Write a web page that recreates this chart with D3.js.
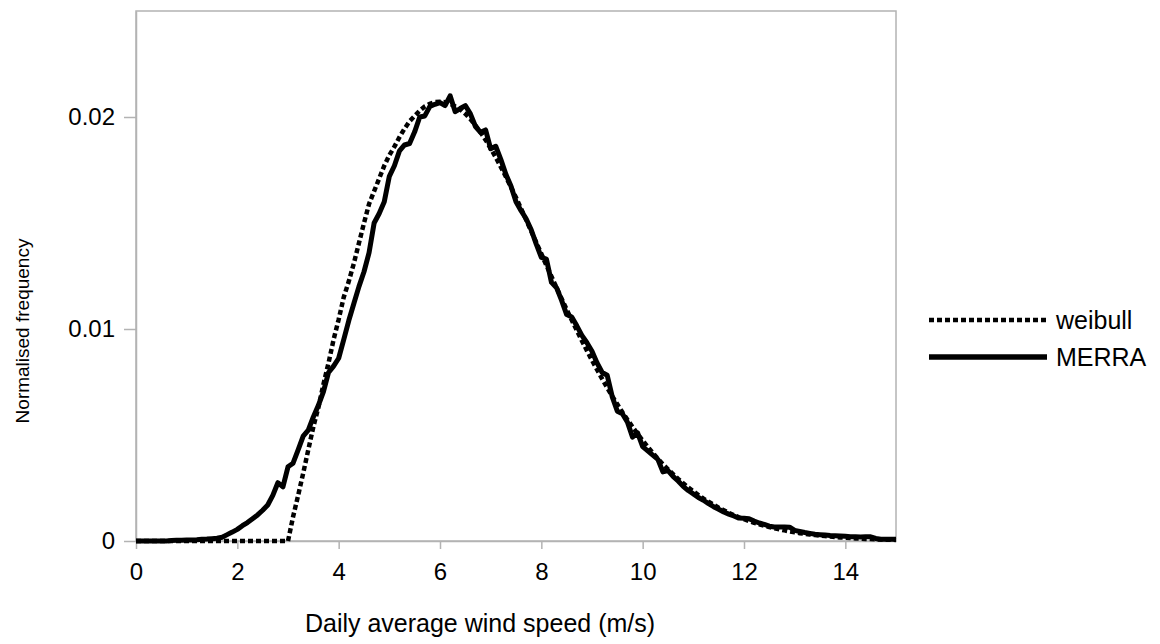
<!DOCTYPE html>
<html>
<head>
<meta charset="utf-8">
<script src="https://cdn.jsdelivr.net/npm/d3@7"></script>
<style>
  html, body { margin: 0; padding: 0; background: #fff; }
  svg { display: block; font-family: "Liberation Sans", Arial, sans-serif; }
</style>
</head>
<body>
<svg id="chart" width="1160" height="644"></svg>
<script>
// ---- data ----
const speedStep = 0.1;           // wind speed bins (m/s), 0 .. 15
const merra = [
  0, 0, 0, 0, 0, 0, 0, 0.00002, 0.00003, 0.00004,
  0.00005, 0.00005, 0.00006, 0.00008, 0.00009, 0.00011, 0.00013, 0.00018, 0.00030, 0.00042,
  0.00055, 0.00072, 0.00087, 0.00105, 0.00123, 0.00145, 0.00170, 0.00215, 0.00275, 0.00255,
  0.00350, 0.00367, 0.00430, 0.00495, 0.00523, 0.00585, 0.00640, 0.00705, 0.00795, 0.00825,
  0.00862, 0.00950, 0.01040, 0.01120, 0.01200, 0.01270, 0.01360, 0.01500, 0.01545, 0.01600,
  0.01720, 0.01770, 0.01840, 0.01868, 0.01875, 0.01930, 0.02000, 0.02005, 0.02050, 0.02060,
  0.02068, 0.02054, 0.02100, 0.02025, 0.02040, 0.02054, 0.02015, 0.01955, 0.01928, 0.01939,
  0.01850, 0.01862, 0.01800, 0.01730, 0.01675, 0.01600, 0.01558, 0.01520, 0.01468, 0.01400,
  0.01338, 0.01330, 0.01220, 0.01195, 0.01135, 0.01068, 0.01057, 0.01015, 0.00970, 0.00935,
  0.00895, 0.00840, 0.00795, 0.00782, 0.00680, 0.00612, 0.00600, 0.00560, 0.00490, 0.00510,
  0.00445, 0.00425, 0.00405, 0.00385, 0.00326, 0.00332, 0.00305, 0.00283, 0.00258, 0.00238,
  0.00222, 0.00205, 0.00192, 0.00176, 0.00162, 0.00150, 0.00137, 0.00127, 0.00118, 0.00108,
  0.00107, 0.00105, 0.00094, 0.00085, 0.00078, 0.00070, 0.00066, 0.00066, 0.00066, 0.00065,
  0.00050, 0.00045, 0.00040, 0.00036, 0.00032, 0.00030, 0.00028, 0.00026, 0.00025, 0.00024,
  0.00022, 0.00020, 0.00020, 0.00019, 0.00020, 0.00020, 0.00012, 0.00008, 0.00008, 0.00008,
  0.00008
];
const weibull = [
  0, 0, 0, 0, 0, 0, 0, 0, 0, 0,
  0, 0, 0, 0, 0, 0, 0, 0, 0, 0,
  0, 0, 0, 0, 0, 0, 0, 0, 0, 0,
  0, 0.00114, 0.00215, 0.00320, 0.00430, 0.00538, 0.00630, 0.00740, 0.00840, 0.00950,
  0.01045, 0.01150, 0.01225, 0.01310, 0.01405, 0.01500, 0.01590, 0.01650, 0.01710, 0.01770,
  0.01820, 0.01860, 0.01905, 0.01945, 0.01980, 0.02005, 0.02030, 0.02050, 0.02062, 0.02070,
  0.02072, 0.02070, 0.02062, 0.02050, 0.02035, 0.02015, 0.01990, 0.01960, 0.01928, 0.01892,
  0.01852, 0.01810, 0.01765, 0.01718, 0.01670, 0.01620, 0.01568, 0.01515, 0.01462, 0.01408,
  0.01355, 0.01300, 0.01248, 0.01195, 0.01143, 0.01092, 0.01042, 0.00993, 0.00945, 0.00898,
  0.00852, 0.00808, 0.00765, 0.00723, 0.00683, 0.00645, 0.00607, 0.00572, 0.00538, 0.00505,
  0.00474, 0.00444, 0.00415, 0.00388, 0.00362, 0.00338, 0.00315, 0.00293, 0.00272, 0.00252,
  0.00234, 0.00217, 0.00200, 0.00185, 0.00171, 0.00157, 0.00145, 0.00133, 0.00122, 0.00112,
  0.00103, 0.00094, 0.00086, 0.00079, 0.00072, 0.00066, 0.00060, 0.00055, 0.00050, 0.00045,
  0.00041, 0.00037, 0.00034, 0.00031, 0.00028, 0.00025, 0.00023, 0.00021, 0.00019, 0.00017,
  0.00015, 0.00014, 0.00012, 0.00011, 0.00010, 0.00009, 0.00008, 0.00007, 0.00006, 0.00006,
  0.00005
];
const xTicks = [0, 2, 4, 6, 8, 10, 12, 14];
const yTicks = [0, 0.01, 0.02];
const yTickLabels = ["0", "0.01", "0.02"];
const seriesNames = ["weibull", "MERRA"];
const xTitle = "Daily average wind speed (m/s)";
const yTitle = "Normalised frequency";

// ---- layout ----
const svg = d3.select("#chart");
const plot = { left: 136, top: 11, right: 896, bottom: 541 };
const x = d3.scaleLinear().domain([0, 15]).range([plot.left, plot.right]);
const y = d3.scaleLinear().domain([0, 0.025]).range([plot.bottom, plot.top]);
const axisColor = "#b3b3b3";

// frame (top and right)
svg.append("rect")
  .attr("x", plot.left).attr("y", plot.top)
  .attr("width", plot.right - plot.left).attr("height", plot.bottom - plot.top)
  .attr("fill", "none").attr("stroke", axisColor).attr("stroke-width", 1.5);

// x axis
const xAxis = svg.append("g")
  .attr("transform", `translate(0,${plot.bottom})`)
  .call(d3.axisBottom(x).tickValues(xTicks).tickSize(8).tickSizeOuter(0).tickPadding(14).tickFormat(d3.format("d")));
xAxis.select(".domain").attr("stroke", axisColor).attr("stroke-width", 1.5);
xAxis.selectAll(".tick line").attr("stroke", axisColor).attr("stroke-width", 1.5);
xAxis.selectAll(".tick text").attr("font-size", 24).attr("fill", "#000")
  .attr("font-family", "Liberation Sans, Arial, sans-serif");

// y axis
const yAxis = svg.append("g")
  .attr("transform", `translate(${plot.left},0)`)
  .call(d3.axisLeft(y).tickValues(yTicks).tickSize(12).tickSizeOuter(0).tickPadding(9)
    .tickFormat((d, i) => yTickLabels[i]));
yAxis.select(".domain").attr("stroke", axisColor).attr("stroke-width", 1.5);
yAxis.selectAll(".tick line").attr("stroke", axisColor).attr("stroke-width", 1.5);
yAxis.selectAll(".tick text").attr("font-size", 24).attr("fill", "#000")
  .attr("font-family", "Liberation Sans, Arial, sans-serif");

// lines
const line = d3.line()
  .x((d, i) => x(i * speedStep))
  .y(d => y(d));

svg.append("path").datum(weibull)
  .attr("d", line)
  .attr("fill", "none").attr("stroke", "#000")
  .attr("stroke-width", 4.5).attr("stroke-dasharray", "5,3");

svg.append("path").datum(merra)
  .attr("d", line)
  .attr("fill", "none").attr("stroke", "#000")
  .attr("stroke-width", 5).attr("stroke-linejoin", "round");

// axis titles
svg.append("text")
  .attr("x", 480).attr("y", 632)
  .attr("text-anchor", "middle").attr("font-size", 25).attr("fill", "#000")
  .text(xTitle);

svg.append("text")
  .attr("transform", `translate(29,${331}) rotate(-90)`)
  .attr("text-anchor", "middle").attr("font-size", 19).attr("fill", "#000")
  .text(yTitle);

// legend
const legend = svg.append("g");
const legendRows = [
  { name: seriesNames[0], y: 320, dash: "5,3", w: 4.5 },
  { name: seriesNames[1], y: 357, dash: null, w: 5.5 }
];
legendRows.forEach(r => {
  legend.append("line")
    .attr("x1", 929).attr("x2", 1047).attr("y1", r.y).attr("y2", r.y)
    .attr("stroke", "#000").attr("stroke-width", r.w)
    .attr("stroke-dasharray", r.dash);
  legend.append("text")
    .attr("x", 1056).attr("y", r.y).attr("dy", "0.35em")
    .attr("font-size", 25).attr("fill", "#000")
    .text(r.name);
});
</script>
</body>
</html>
